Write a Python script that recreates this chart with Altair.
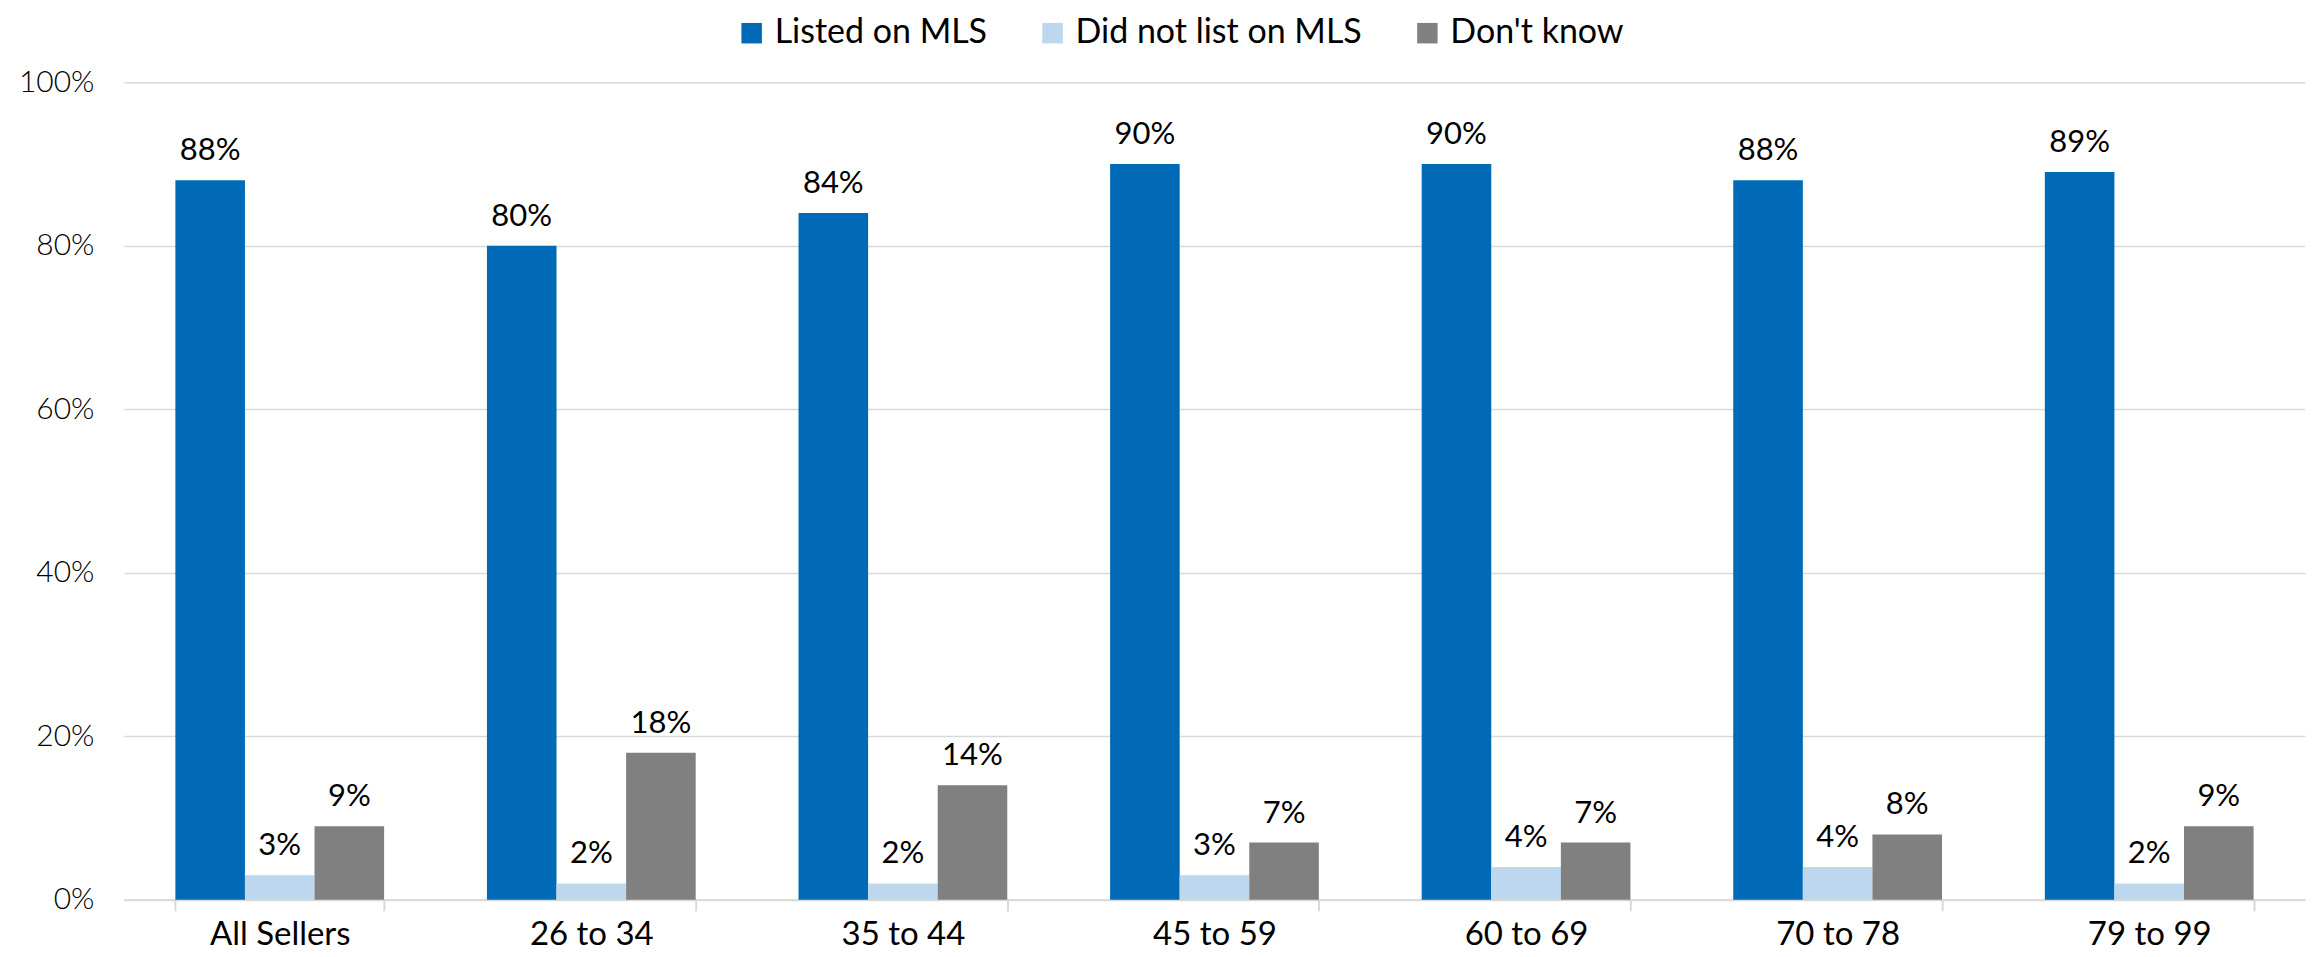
import altair as alt
import pandas as pd

categories = ["All Sellers", "26 to 34", "35 to 44", "45 to 59", "60 to 69", "70 to 78", "79 to 99"]
series = ["Listed on MLS", "Did not list on MLS", "Don't know"]
listed = [88, 80, 84, 90, 90, 88, 89]
did_not = [3, 2, 2, 3, 4, 4, 2]
dont_know = [9, 18, 14, 7, 7, 8, 9]
colors = ["#006AB6", "#BDD7EE", "#808080"]

rows = []
for i, c in enumerate(categories):
    for s, vals in zip(series, [listed, did_not, dont_know]):
        rows.append({"cat": c, "series": s, "value": vals[i] / 100.0})
df = pd.DataFrame(rows)

FONT = "Lato"

base = alt.Chart(df).encode(
    x=alt.X("cat:N", sort=categories, title=None,
            scale=alt.Scale(paddingInner=0.33, paddingOuter=0.165),
            axis=alt.Axis(labelAngle=0, labelFontSize=33, labelFont=FONT, labelColor="#000000",
                          labelPadding=8, domainColor="#D9D9D9", domainWidth=2,
                          tickColor="#D9D9D9", tickWidth=2, tickSize=11, tickBand="extent",
                          grid=False)),
    xOffset=alt.XOffset("series:N", sort=series),
)

bars = base.mark_bar().encode(
    y=alt.Y("value:Q", title=None,
            scale=alt.Scale(domain=[0, 1]),
            axis=alt.Axis(format="%", values=[0, 0.2, 0.4, 0.6, 0.8, 1.0], labelFontSize=30,
                          labelFont=FONT, labelFontWeight=300, labelColor="#000000",
                          domain=False, ticks=False, gridColor="#D9D9D9", gridWidth=1.5,
                          labelPadding=30, minExtent=111, maxExtent=111)),
    color=alt.Color("series:N", sort=series,
                    scale=alt.Scale(domain=series, range=colors),
                    legend=alt.Legend(orient="none", legendX=611, legendY=-66, direction="horizontal",
                                      title=None, symbolType="square",
                                      symbolSize=420, symbolStrokeWidth=0, labelFontSize=34,
                                      labelFont=FONT, labelColor="#000000", columnPadding=48,
                                      labelOffset=6, labelLimit=400, padding=0)),
)

labels = base.mark_text(baseline="bottom", dy=-13, fontSize=31, font=FONT, color="#000000").encode(
    y=alt.Y("value:Q"),
    text=alt.Text("value:Q", format=".0%"),
)

chart = alt.layer(bars, labels).properties(
    width=2182, height=818,
    padding={"left": 5, "top": 8, "right": 5, "bottom": 5},
).configure_view(stroke=None).configure_axis(labelFont=FONT)

chart.save("out.html", embed_options={"renderer": "svg", "actions": False})
